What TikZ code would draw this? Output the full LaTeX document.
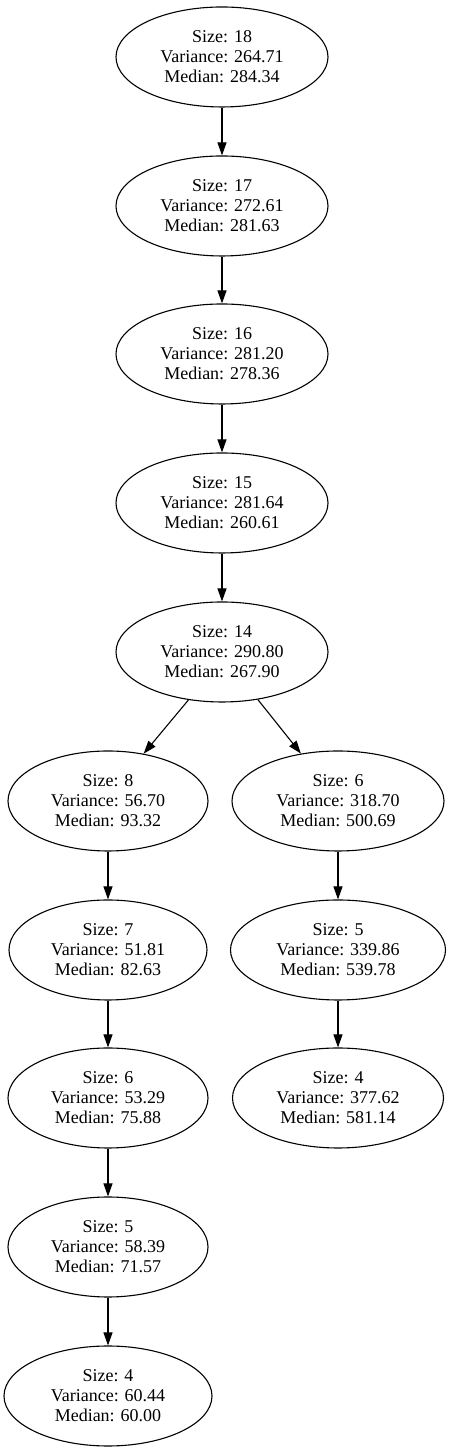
\documentclass[tikz,border=0pt]{standalone}
\usepackage{fontspec}
\setmainfont{Liberation Serif}
\usetikzlibrary{shapes.geometric,arrows.meta}
\begin{document}
\begin{tikzpicture}[x=1pt,y=1pt,
  tnode/.style={draw,ellipse,line width=1.1pt,inner sep=0pt,minimum height=100pt,
    align=center,font=\fontsize{18}{20}\selectfont},
  edge/.style={line width=1.1pt,-{Triangle[length=13pt,width=9pt]}}]
\useasboundingbox (0,0) rectangle (449,1456);
\node[tnode,minimum width=212pt] (a18) at (222,1399) {Size: 18\\Variance: 264.71\\Median: 284.34};
\node[tnode,minimum width=212pt] (a17) at (222,1250) {Size: 17\\Variance: 272.61\\Median: 281.63};
\node[tnode,minimum width=212pt] (a16) at (222,1102) {Size: 16\\Variance: 281.20\\Median: 278.36};
\node[tnode,minimum width=212pt] (a15) at (222,953) {Size: 15\\Variance: 281.64\\Median: 260.61};
\node[tnode,minimum width=212pt] (a14) at (222,804) {Size: 14\\Variance: 290.80\\Median: 267.90};
\node[tnode,minimum width=200pt] (l8) at (108,655) {Size: 8\\Variance: 56.70\\Median: 93.32};
\node[tnode,minimum width=212pt] (r6) at (338,655) {Size: 6\\Variance: 318.70\\Median: 500.69};
\node[tnode,minimum width=198pt] (l7) at (108,506) {Size: 7\\Variance: 51.81\\Median: 82.63};
\node[tnode,minimum width=215pt] (r5) at (338,506) {Size: 5\\Variance: 339.86\\Median: 539.78};
\node[tnode,minimum width=200pt] (l6) at (108,358) {Size: 6\\Variance: 53.29\\Median: 75.88};
\node[tnode,minimum width=211pt] (r4) at (338,358) {Size: 4\\Variance: 377.62\\Median: 581.14};
\node[tnode,minimum width=200pt] (l5) at (108,209) {Size: 5\\Variance: 58.39\\Median: 71.57};
\node[tnode,minimum width=208pt] (l4) at (108,60) {Size: 4\\Variance: 60.44\\Median: 60.00};
\draw[edge] (a18.south) -- (a17.north);
\draw[edge] (a17.south) -- (a16.north);
\draw[edge] (a16.south) -- (a15.north);
\draw[edge] (a15.south) -- (a14.north);
\draw[edge] (a14.235) -- (l8.53);
\draw[edge] (a14.307) -- (r6.128);
\draw[edge] (l8.south) -- (l7.north);
\draw[edge] (l7.south) -- (l6.north);
\draw[edge] (l6.south) -- (l5.north);
\draw[edge] (l5.south) -- (l4.north);
\draw[edge] (r6.south) -- (r5.north);
\draw[edge] (r5.south) -- (r4.north);
\end{tikzpicture}
\end{document}
